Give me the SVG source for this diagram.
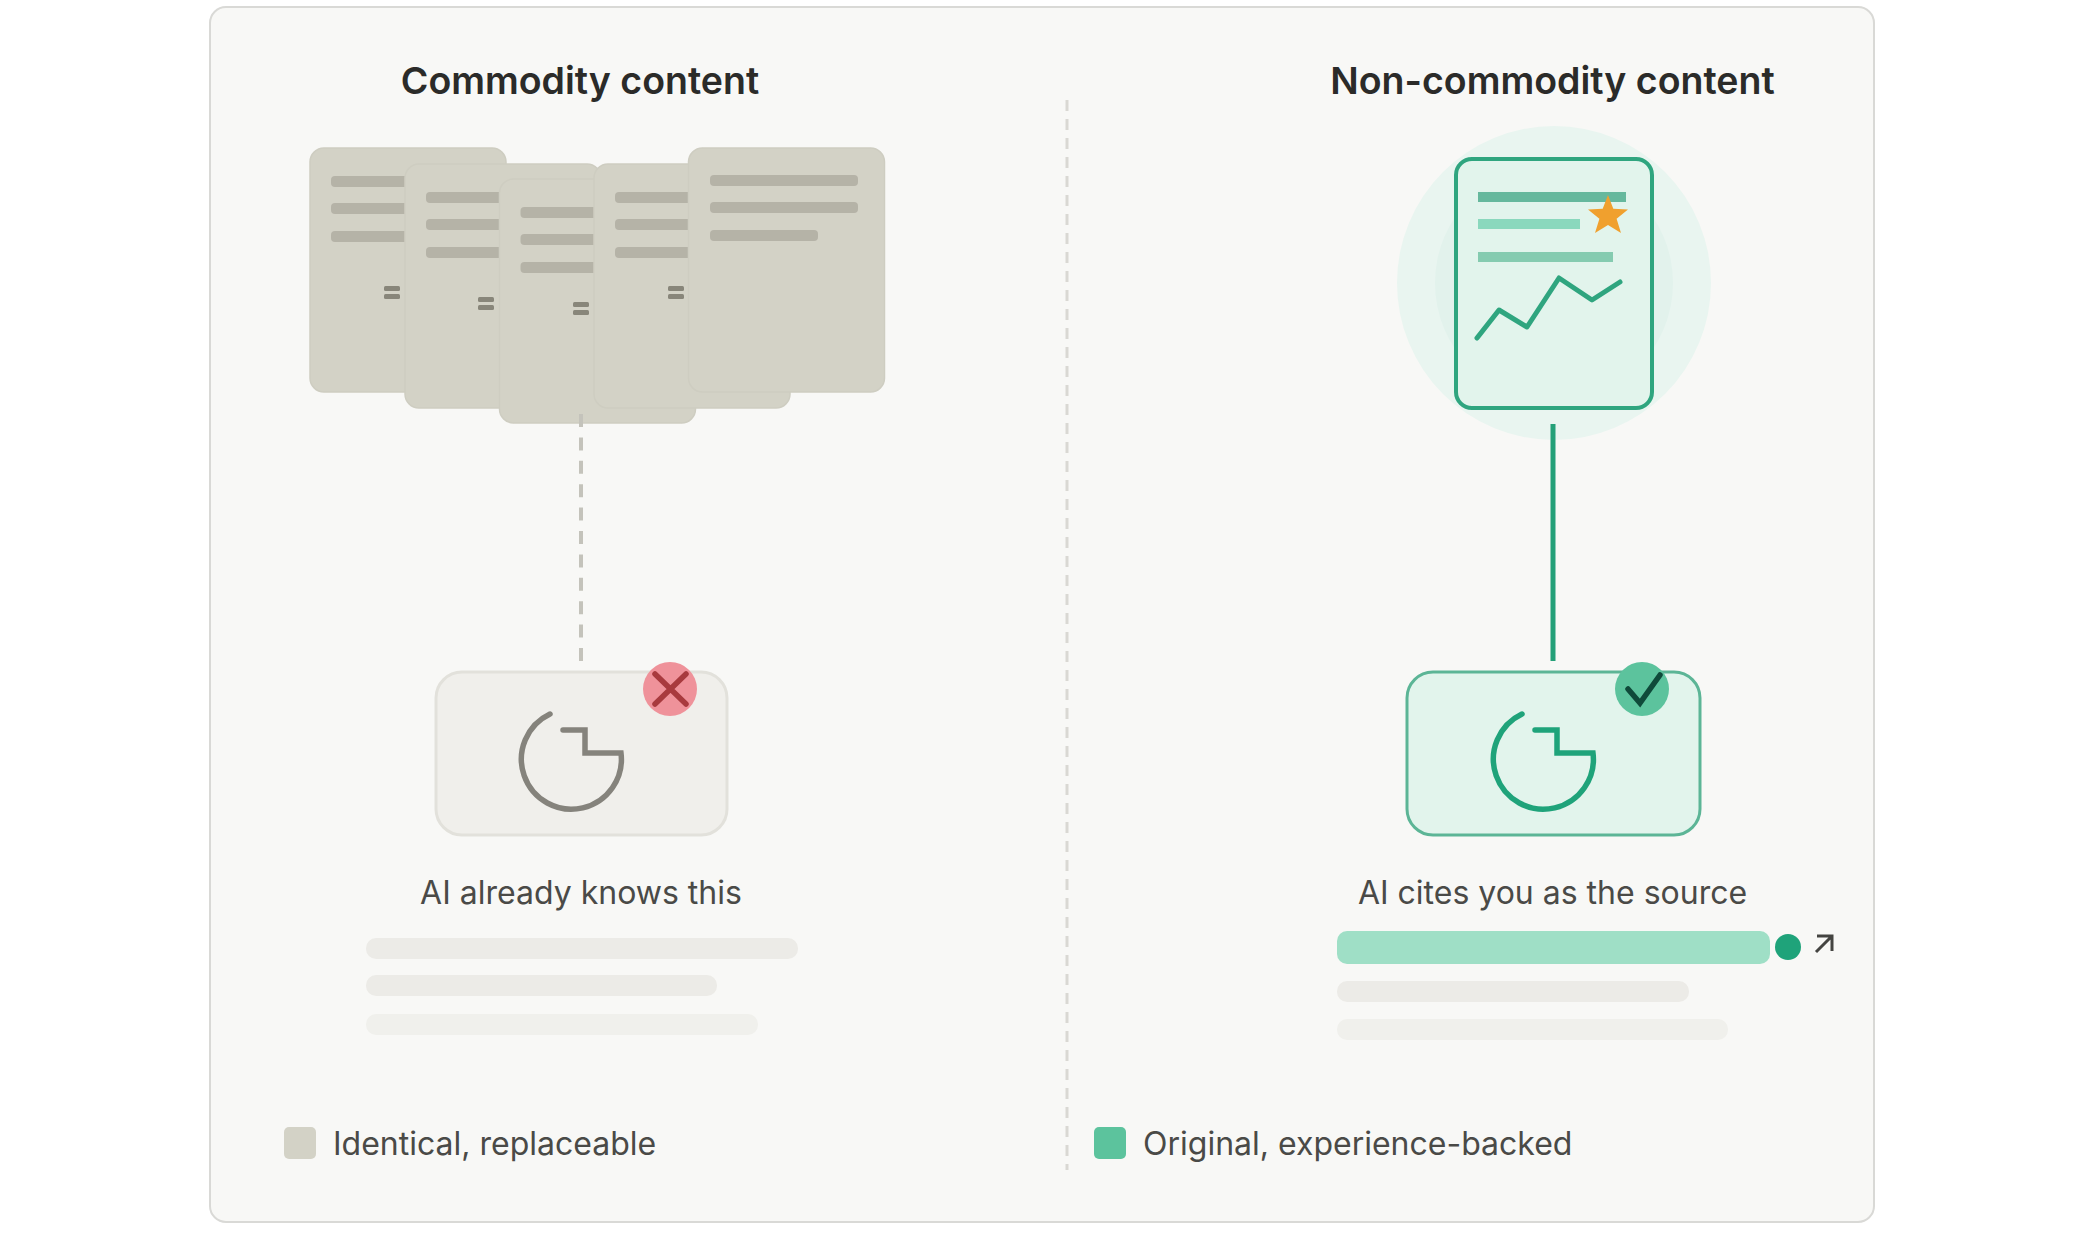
<svg xmlns="http://www.w3.org/2000/svg" width="2084" height="1234" viewBox="0 0 2084 1234">
<defs>
<style>
text{font-family:"Inter","Liberation Sans",sans-serif}
.title{font-size:37.5px;font-weight:600;fill:#2b2b29;text-anchor:middle}
.cap{font-size:32px;fill:#4a4a47;text-anchor:middle}
.leg{font-size:32px;fill:#4a4a47}
.doc{fill:#d3d2c6;stroke:#cecdc1;stroke-width:1.5}
.ln{fill:#b5b3a7}
.eq{fill:#88867a}
.card{stroke-width:3}
.icon{fill:none;stroke-width:5.5;stroke-linecap:round;stroke-linejoin:miter}
</style>
<g id="page"><rect class="doc" x="0" y="0" width="196" height="244" rx="14"/><rect class="ln" x="21" y="28" width="148" height="11" rx="4"/><rect class="ln" x="21" y="55" width="148" height="11" rx="4"/><rect class="ln" x="21" y="83" width="108" height="11" rx="4"/></g>
</defs>
<rect width="2084" height="1234" fill="#ffffff"/>
<rect id="panel" x="210" y="7" width="1664" height="1215" rx="16" fill="#f8f8f6" stroke="#d9d9d6" stroke-width="2"/>
<line id="divider" x1="1067" y1="100" x2="1067" y2="1170" stroke="#d9d8d3" stroke-width="3" stroke-dasharray="11 8"/>
<text class="title" x="580" y="94">Commodity content</text>
<text class="title" x="1552.5" y="94">Non-commodity content</text>
<g id="commodity-docs">
<g id="doc-1"><use href="#page" x="310" y="148"/><rect class="eq" x="384" y="286" width="16" height="5" rx="1.5"/><rect class="eq" x="384" y="294" width="16" height="5" rx="1.5"/></g>
<g id="doc-2"><use href="#page" x="405" y="164"/><rect class="eq" x="478" y="297" width="16" height="5" rx="1.5"/><rect class="eq" x="478" y="305" width="16" height="5" rx="1.5"/></g>
<g id="doc-3"><use href="#page" x="499.500" y="179"/><rect class="eq" x="573" y="302" width="16" height="5" rx="1.500"/><rect class="eq" x="573" y="310" width="16" height="5" rx="1.5"/></g>
<g id="doc-4"><use href="#page" x="594" y="164"/><rect class="eq" x="668" y="286" width="16" height="5" rx="1.5"/><rect class="eq" x="668" y="294" width="16" height="5" rx="1.5"/></g>
<g id="doc-5"><rect class="doc" x="688.500" y="148" width="196" height="244" rx="14"/><rect class="ln" x="710" y="175" width="148" height="11" rx="4"/><rect class="ln" x="710" y="202" width="148" height="11" rx="4"/><rect class="ln" x="710" y="230" width="108" height="11" rx="4"/></g>
</g>
<g id="original-doc">
<circle cx="1554" cy="283" r="157" fill="#e9f5f0"/>
<circle cx="1554" cy="283" r="119" fill="#e2f2ec"/>
<rect x="1456" y="159" width="196" height="249" rx="16" fill="#e2f4ec" stroke="#2fa57f" stroke-width="4"/>
<rect x="1478" y="192" width="148" height="10" fill="#66b89d"/>
<rect x="1478" y="219" width="102" height="10" fill="#8ad8bd"/>
<rect x="1478" y="252" width="135" height="10" fill="#85cbb0"/>
<polyline points="1477,338 1499,310 1527,327 1559,278 1592,300 1620,282" fill="none" stroke="#2fa57f" stroke-width="5" stroke-linecap="round" stroke-linejoin="round"/>
<polygon points="1608,195 1613.3,208.7 1628,209.5 1616.6,218.8 1621,233 1608,225 1595,233 1599.4,218.8 1588,209.500 1602.7,208.7" fill="#f0a02e"/>
</g>
<g id="ai-left">
<rect class="card" x="436" y="672" width="291" height="163" rx="26" fill="#f0efeb" stroke="#e2e1db"/>
<path class="icon" d="M550 714A50 50 0 1 0 621 753H585V730H563" stroke="#85837c"/>
<circle cx="670" cy="689" r="27" fill="#ef929a"/>
<path d="M655 674L686 704M686 674L655 704" fill="none" stroke="#a83a3e" stroke-width="5.5" stroke-linecap="round"/>
</g>
<g id="ai-right">
<rect class="card" x="1407" y="672" width="293" height="163" rx="26" fill="#e2f4ec" stroke="#5cb596"/>
<path class="icon" d="M1522 714A50 50 0 1 0 1593 753H1557V730H1535" stroke="#1fa37a"/>
<circle cx="1642" cy="689" r="27" fill="#5cc39d"/>
<path d="M1628 689L1640 703L1660 675" fill="none" stroke="#0f4a3a" stroke-width="5.5" stroke-linecap="round"/>
</g>
<g id="connectors">
<line id="left-link" x1="581" y1="414" x2="581" y2="661" stroke="#c4c3bb" stroke-width="4" stroke-dasharray="13 10.4"/>
<line id="right-link" x1="1553" y1="424" x2="1553" y2="661" stroke="#24a078" stroke-width="5"/>
</g>
<text class="cap" x="581" y="904">AI already knows this</text>
<text class="cap" x="1552.5" y="904">AI cites you as the source</text>
<g id="left-answer">
<rect x="366" y="938" width="432" height="21" rx="10" fill="#ecebe7"/>
<rect x="366" y="975" width="351" height="21" rx="10" fill="#ecebe7"/>
<rect x="366" y="1014" width="392" height="21" rx="10" fill="#f0f0ec"/>
</g>
<g id="right-answer">
<rect x="1337" y="931" width="433" height="33" rx="10" fill="#9fdfc6"/>
<circle cx="1788" cy="947" r="13" fill="#1fa37a"/>
<path d="M1816 952L1832 936M1817 936H1832V951" fill="none" stroke="#444441" stroke-width="3"/>
<rect x="1337" y="981" width="352" height="21" rx="10" fill="#ecebe7"/>
<rect x="1337" y="1019" width="391" height="21" rx="10" fill="#f0f0ec"/>
</g>
<g id="legend-left">
<rect x="284" y="1127" width="32" height="32" rx="5" fill="#d3d2c6"/>
<text class="leg" x="333" y="1155">Identical, replaceable</text>
</g>
<g id="legend-right">
<rect x="1094" y="1127" width="32" height="32" rx="5" fill="#5cc39d"/>
<text class="leg" x="1143" y="1155">Original, experience-backed</text>
</g>
</svg>
